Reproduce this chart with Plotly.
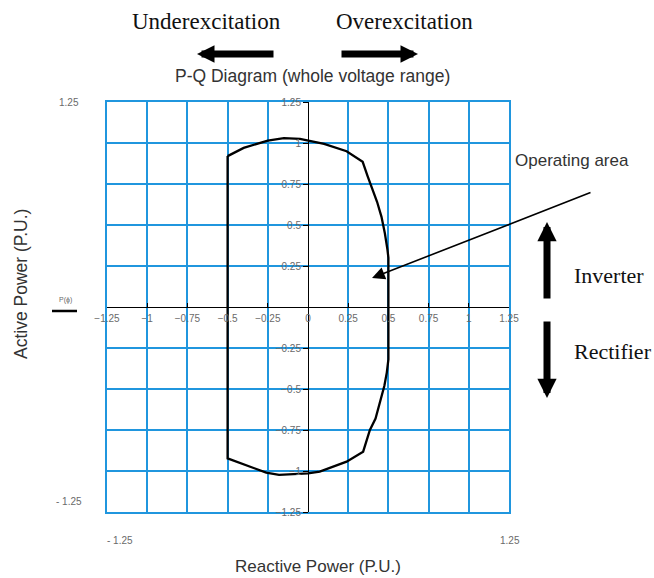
import plotly.graph_objects as go

# Operating boundary of the converter in the P-Q plane (per unit)
q_boundary = [-0.5, -0.4, -0.25, -0.15, -0.05, 0.0, 0.1, 0.24, 0.34, 0.37, 0.395,
              0.43, 0.457, 0.478, 0.494, 0.5, 0.5, 0.49, 0.475, 0.457, 0.42, 0.385,
              0.343, 0.24, 0.073, 0.0, -0.18, -0.26, -0.5, -0.5]
p_boundary = [0.92, 0.97, 1.015, 1.03, 1.025, 1.015, 0.995, 0.95, 0.885, 0.8, 0.73,
              0.64, 0.55, 0.45, 0.35, 0.3, -0.32, -0.4, -0.48, -0.55, -0.68, -0.75,
              -0.882, -0.943, -1.004, -1.014, -1.024, -1.01, -0.923, 0.92]

tick_values = [-1.25, -1, -0.75, -0.5, -0.25, 0, 0.25, 0.5, 0.75, 1, 1.25]
x_tick_text = ["\u22121.25", "\u22121", "\u22120.75", "\u22120.5", "\u22120.25", "0",
               "0.25", "0.5", "0.75", "1", "1.25"]
y_tick_values = [-1.25, -1, -0.75, -0.5, -0.25, 0.25, 0.5, 0.75, 1, 1.25]
y_tick_text = ["\u22121.25", "\u22121", "\u22120.75", "\u22120.5", "\u22120.25",
               "0.25", "0.5", "0.75", "1", "1.25"]

W, H = 654, 578
ML, MR, MT, MB = 107, 145, 102, 66
PW, PH = W - ML - MR, H - MT - MB


def px(x):
    return (x - ML) / PW


def py(y):
    return (H - MB - y) / PH


BLUE = "rgb(32,150,222)"
GRAY = "#6a6a6a"
SERIF = "Liberation Serif, Times New Roman, serif"
SANS = "Liberation Sans, Arial, sans-serif"

fig = go.Figure()
fig.add_trace(go.Scatter(x=q_boundary, y=p_boundary, mode="lines",
                         line=dict(color="black", width=2.3),
                         hoverinfo="skip", showlegend=False))
fig.add_trace(go.Scatter(x=[], y=[], xaxis="x2", yaxis="y2",
                         hoverinfo="skip", showlegend=False))

rng = [-1.25, 1.25]
fig.update_layout(
    width=W, height=H,
    margin=dict(l=ML, r=MR, t=MT, b=MB),
    paper_bgcolor="white", plot_bgcolor="white",
    showlegend=False,
    xaxis=dict(range=rng, tickvals=tick_values, showticklabels=False, ticks="",
               showgrid=True, gridcolor=BLUE, gridwidth=1.6,
               showline=True, linecolor=BLUE, linewidth=2, mirror=True,
               zeroline=True, zerolinecolor="black", zerolinewidth=1.4),
    yaxis=dict(range=rng, tickvals=tick_values, showticklabels=False, ticks="",
               showgrid=True, gridcolor=BLUE, gridwidth=1.6,
               showline=True, linecolor=BLUE, linewidth=2, mirror=True,
               zeroline=True, zerolinecolor="black", zerolinewidth=1.4),
    xaxis2=dict(range=rng, overlaying="x", anchor="free", position=0.5,
                tickvals=tick_values, ticktext=x_tick_text,
                ticks="inside", ticklen=4, tickcolor="black", tickwidth=1,
                ticklabelstandoff=4,
                tickfont=dict(family=SANS, size=10, color=GRAY),
                showgrid=False, zeroline=False, showline=False),
    yaxis2=dict(range=rng, overlaying="y", anchor="free", position=0.5,
                tickvals=y_tick_values, ticktext=y_tick_text,
                ticks="outside", ticklen=5, tickcolor="black", tickwidth=1,
                tickfont=dict(family=SANS, size=10, color=GRAY),
                showgrid=False, zeroline=False, showline=False),
)

ann = []


def text(x, y, s, size, family=SANS, color="#222", xanchor="center", angle=0):
    ann.append(dict(x=px(x), y=py(y), xref="paper", yref="paper", text=s,
                    showarrow=False, xanchor=xanchor, yanchor="middle",
                    textangle=angle, font=dict(family=family, size=size, color=color)))


def arrow(x_tip, y_tip, x_tail, y_tail, width, head, size):
    ann.append(dict(x=px(x_tip), y=py(y_tip), xref="paper", yref="paper",
                    ax=x_tail - x_tip, ay=y_tail - y_tip, text="",
                    showarrow=True, arrowhead=head, arrowsize=size,
                    arrowwidth=width, arrowcolor="black"))


text(206, 21, "Underexcitation", 23, SERIF, "#111")
text(404, 21, "Overexcitation", 23, SERIF, "#111")
arrow(197, 54, 275, 54, 7, 2, 0.5)
arrow(418, 54, 340, 54, 7, 2, 0.5)
text(312, 76, "P-Q Diagram (whole voltage range)", 17.5, SANS, "#333")

text(513, 160, "Operating area", 17, SANS, "#333", xanchor="left")
arrow(372, 278, 592, 192, 1.6, 2, 1.6)

arrow(547, 222, 547, 300, 7, 2, 0.55)
arrow(547, 398, 547, 320, 7, 2, 0.55)
text(572, 275, "Inverter", 22, SERIF, "#111", xanchor="left")
text(572, 351, "Rectifier", 22, SERIF, "#111", xanchor="left")

text(21, 284, "Active Power (P.U.)", 17.5, SANS, "#333", angle=-90)
text(318, 566, "Reactive Power (P.U.)", 17, SANS, "#333")

text(69, 102, "1.25", 10, SANS, GRAY)
text(69, 501, "- 1.25", 10, SANS, GRAY)
text(120, 540, "- 1.25", 10, SANS, GRAY)
text(510, 540, "1.25", 10, SANS, GRAY)
text(65, 300, "P(\u03d5)", 7, SANS, GRAY)

fig.update_layout(annotations=ann)
fig.add_shape(type="line", xref="paper", yref="paper",
              x0=px(52), x1=px(77), y0=py(311), y1=py(311),
              line=dict(color="black", width=2.5))

fig.write_html("out.html")
